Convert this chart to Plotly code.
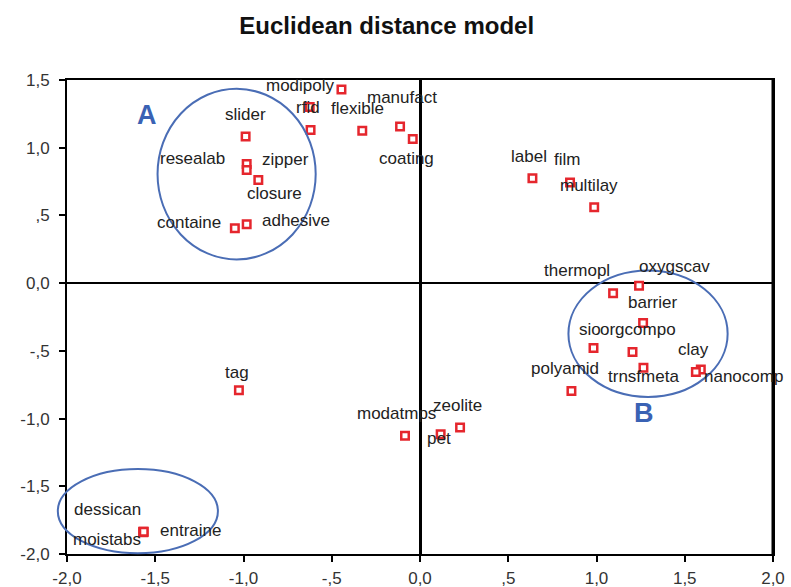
import plotly.graph_objects as go

# ---- data ----
names = ["", "modipoly", "rfid", "flexible", "manufact", "coating",
         "slider", "resealab", "zipper", "closure", "containe", "adhesive",
         "label", "film", "multilay",
         "thermopl", "oxygscav", "barrier", "sio", "orgcompo", "trnsfmeta",
         "clay", "nanocomp", "polyamid",
         "tag", "modatmps", "pet", "zeolite",
         "dessican", "moistabs", "entraine"]
dim1 = [-0.445, -0.625, -0.62, -0.327, -0.113, -0.041,
        -0.988, -0.982, -0.982, -0.916, -1.049, -0.982,
        0.637, 0.85, 0.987,
        1.094, 1.241, 1.264, 0.983, 1.204, 1.266,
        1.591, 1.563, 0.858,
        -1.026, -0.085, 0.117, 0.227,
        -1.568, -1.568, -1.565]
dim2 = [1.43, 1.30, 1.13, 1.125, 1.157, 1.064,
        1.083, 0.88, 0.835, 0.762, 0.405, 0.435,
        0.774, 0.744, 0.56,
        -0.074, -0.019, -0.295, -0.479, -0.508, -0.624,
        -0.638, -0.656, -0.796,
        -0.791, -1.127, -1.115, -1.066,
        -1.835, -1.84, -1.835]

x_ticks = [-2.0, -1.5, -1.0, -0.5, 0.0, 0.5, 1.0, 1.5, 2.0]
x_tick_labels = ["-2,0", "-1,5", "-1,0", "-,5", "0,0", ",5", "1,0", "1,5", "2,0"]
y_ticks = [1.5, 1.0, 0.5, 0.0, -0.5, -1.0, -1.5, -2.0]
y_tick_labels = ["1,5", "1,0", ",5", "0,0", "-,5", "-1,0", "-1,5", "-2,0"]

# cluster ellipses (x0, x1, y0, y1 in data units) and their letters
clusters = ["A", "B", ""]
ell_x0 = [-1.487, 0.841, -2.052]
ell_x1 = [-0.591, 1.743, -1.145]
ell_y0 = [0.175, -0.840, -1.994]
ell_y1 = [1.435, 0.094, -1.373]
letter_x = [-1.546, 1.27]
letter_y = [1.243, -0.962]

# ---- label placement (pixel offsets from marker) ----
label_dx = [0, -9, -3, -5, 2, -6,
            0, -54, 39, 16, -46, 49,
            -3, -3, -5,
            -36, 35, 9, -4, 5, 0,
            -7, 48, -6,
            -2, -9, -2, -3,
            -36, -36, 47]
label_dy = [0, 22, 23, 22, 29, -19,
            22, 5, 11, -14, 6, 4,
            22, 23, 22,
            23, 19, 21, 19, 22, -9,
            20, -5, 22,
            18, 22, -4, 22,
            22, -7, 1]

XMIN, XMAX = -2.0, 2.0
YMIN, YMAX = -2.0, 1.5

FONT = "Liberation Sans, Arial, sans-serif"

fig = go.Figure()
fig.add_trace(go.Scatter(
    x=dim1, y=dim2, mode="markers",
    marker=dict(symbol="square", size=7.5, color="white",
                line=dict(color="#e5262d", width=2.5)),
    hoverinfo="text", text=names, showlegend=False,
))

annotations = []
for n, xv, yv, dx, dy in zip(names, dim1, dim2, label_dx, label_dy):
    if not n:
        continue
    annotations.append(dict(
        x=xv, y=yv, xref="x", yref="y", text=n, showarrow=False,
        xshift=dx, yshift=dy, xanchor="center", yanchor="middle",
        font=dict(family=FONT, size=17, color="#222222"),
    ))
for t, lx, ly in zip(clusters, letter_x, letter_y):
    annotations.append(dict(
        x=lx, y=ly, xref="x", yref="y", text="<b>%s</b>" % t, showarrow=False,
        xanchor="center", yanchor="middle",
        font=dict(family=FONT, size=27, color="#3a62b4"),
    ))

shapes = []
for x0, x1, y0, y1 in zip(ell_x0, ell_x1, ell_y0, ell_y1):
    shapes.append(dict(
        type="circle", xref="paper", yref="paper",
        x0=(x0 - XMIN) / (XMAX - XMIN), x1=(x1 - XMIN) / (XMAX - XMIN),
        y0=(y0 - YMIN) / (YMAX - YMIN), y1=(y1 - YMIN) / (YMAX - YMIN),
        line=dict(color="#4a6db5", width=2), layer="above",
    ))
# heavier right frame edge
shapes.append(dict(type="line", xref="paper", yref="paper", x0=1, x1=1, y0=0, y1=1,
                   line=dict(color="black", width=3)))

fig.update_layout(
    width=791, height=587,
    margin=dict(l=67, r=18, t=80, b=33, autoexpand=False),
    paper_bgcolor="white", plot_bgcolor="white",
    title=dict(text="<b>Euclidean distance model</b>", x=386.7 / 791, xanchor="center",
               y=1 - 26 / 587, yanchor="middle", yref="container",
               font=dict(family=FONT, size=24, color="#111111")),
    annotations=annotations, shapes=shapes,
    xaxis=dict(range=[XMIN, XMAX], tickvals=x_ticks, ticktext=x_tick_labels,
               automargin=False,
               showgrid=False, zeroline=True, zerolinecolor="black", zerolinewidth=3,
               showline=True, linecolor="black", linewidth=2, mirror=True,
               ticks="outside", ticklen=6, tickwidth=2, tickcolor="black",
               ticklabelstandoff=2,
               tickfont=dict(family=FONT, size=17, color="#333333")),
    yaxis=dict(range=[YMIN, YMAX], tickvals=y_ticks, ticktext=y_tick_labels,
               automargin=False,
               showgrid=False, zeroline=True, zerolinecolor="black", zerolinewidth=1.5,
               showline=True, linecolor="black", linewidth=2, mirror=True,
               ticks="outside", ticklen=6, tickwidth=2, tickcolor="black",
               ticklabelstandoff=6,
               tickfont=dict(family=FONT, size=17, color="#333333")),
)

fig.write_html("out.html", config={"displayModeBar": False},
               post_script="document.body.style.margin='0px';document.body.style.overflow='hidden';")
